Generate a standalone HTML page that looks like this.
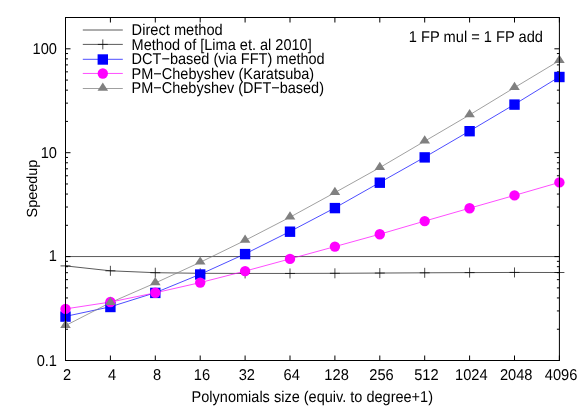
<!DOCTYPE html>
<html><head><meta charset="utf-8"><title>Speedup chart</title>
<style>html,body{margin:0;padding:0;background:#fff}body{width:581px;height:407px;overflow:hidden}</style></head>
<body>
<svg width="581" height="407" viewBox="0 0 581 407" style="display:block;font-family:'Liberation Sans',sans-serif;font-size:14.67px;will-change:transform;text-rendering:geometricPrecision" fill="#000">
<rect width="581" height="407" fill="#fff"/>
<path d="M65.50 360.5 v-5 M65.50 17.5 v5 M110.40 360.5 v-5 M110.40 17.5 v5 M155.30 360.5 v-5 M155.30 17.5 v5 M200.20 360.5 v-5 M200.20 17.5 v5 M245.10 360.5 v-5 M245.10 17.5 v5 M290.00 360.5 v-5 M290.00 17.5 v5 M334.90 360.5 v-5 M334.90 17.5 v5 M379.80 360.5 v-5 M379.80 17.5 v5 M424.70 360.5 v-5 M424.70 17.5 v5 M469.60 360.5 v-5 M469.60 17.5 v5 M514.50 360.5 v-5 M514.50 17.5 v5 M559.40 360.5 v-5 M559.40 17.5 v5 M65.5 360.50 h5 M559.4 360.50 h-5 M65.5 329.22 h2.5 M559.4 329.22 h-2.5 M65.5 310.93 h2.5 M559.4 310.93 h-2.5 M65.5 297.95 h2.5 M559.4 297.95 h-2.5 M65.5 287.88 h2.5 M559.4 287.88 h-2.5 M65.5 279.65 h2.5 M559.4 279.65 h-2.5 M65.5 272.69 h2.5 M559.4 272.69 h-2.5 M65.5 266.67 h2.5 M559.4 266.67 h-2.5 M65.5 261.35 h2.5 M559.4 261.35 h-2.5 M65.5 256.60 h5 M559.4 256.60 h-5 M65.5 225.32 h2.5 M559.4 225.32 h-2.5 M65.5 207.03 h2.5 M559.4 207.03 h-2.5 M65.5 194.05 h2.5 M559.4 194.05 h-2.5 M65.5 183.98 h2.5 M559.4 183.98 h-2.5 M65.5 175.75 h2.5 M559.4 175.75 h-2.5 M65.5 168.79 h2.5 M559.4 168.79 h-2.5 M65.5 162.77 h2.5 M559.4 162.77 h-2.5 M65.5 157.45 h2.5 M559.4 157.45 h-2.5 M65.5 152.70 h5 M559.4 152.70 h-5 M65.5 121.42 h2.5 M559.4 121.42 h-2.5 M65.5 103.13 h2.5 M559.4 103.13 h-2.5 M65.5 90.15 h2.5 M559.4 90.15 h-2.5 M65.5 80.08 h2.5 M559.4 80.08 h-2.5 M65.5 71.85 h2.5 M559.4 71.85 h-2.5 M65.5 64.89 h2.5 M559.4 64.89 h-2.5 M65.5 58.87 h2.5 M559.4 58.87 h-2.5 M65.5 53.55 h2.5 M559.4 53.55 h-2.5 M65.5 48.80 h5 M559.4 48.80 h-5 M65.5 17.52 h2.5 M559.4 17.52 h-2.5" stroke="#000" stroke-width="1" fill="none"/>
<polyline fill="none" stroke="#000" stroke-width="0.65" points="65.50,256.55 559.40,256.55"/>
<polyline fill="none" stroke="#000" stroke-width="0.65" points="65.50,265.90 110.40,270.80 155.30,272.70 200.20,273.30 245.10,273.45 290.00,273.45 334.90,273.30 379.80,273.05 424.70,272.80 469.60,272.60 514.50,272.45 559.40,272.50"/>
<polyline fill="none" stroke="#0000ff" stroke-width="0.7" points="65.50,316.40 110.40,306.80 155.30,292.70 200.20,274.30 245.10,253.90 290.00,231.50 334.90,207.90 379.80,182.50 424.70,157.20 469.60,131.00 514.50,104.40 559.40,76.80"/>
<polyline fill="none" stroke="#ff00ff" stroke-width="0.7" points="65.50,308.90 110.40,302.05 155.30,292.80 200.20,282.60 245.10,271.10 290.00,258.90 334.90,246.60 379.80,234.20 424.70,221.10 469.60,208.20 514.50,195.40 559.40,182.40"/>
<polyline fill="none" stroke="#808080" stroke-width="0.75" points="65.50,325.60 110.40,302.60 155.30,283.00 200.20,262.30 245.10,240.40 290.00,217.20 334.90,192.60 379.80,167.60 424.70,141.20 469.60,114.90 514.50,87.60 559.40,60.60"/>
<path d="M60.50 265.90 h10 M65.50 260.90 v10" stroke="#000" stroke-width="0.7" fill="none"/>
<path d="M105.40 270.80 h10 M110.40 265.80 v10" stroke="#000" stroke-width="0.7" fill="none"/>
<path d="M150.30 272.70 h10 M155.30 267.70 v10" stroke="#000" stroke-width="0.7" fill="none"/>
<path d="M195.20 273.30 h10 M200.20 268.30 v10" stroke="#000" stroke-width="0.7" fill="none"/>
<path d="M240.10 273.45 h10 M245.10 268.45 v10" stroke="#000" stroke-width="0.7" fill="none"/>
<path d="M285.00 273.45 h10 M290.00 268.45 v10" stroke="#000" stroke-width="0.7" fill="none"/>
<path d="M329.90 273.30 h10 M334.90 268.30 v10" stroke="#000" stroke-width="0.7" fill="none"/>
<path d="M374.80 273.05 h10 M379.80 268.05 v10" stroke="#000" stroke-width="0.7" fill="none"/>
<path d="M419.70 272.80 h10 M424.70 267.80 v10" stroke="#000" stroke-width="0.7" fill="none"/>
<path d="M464.60 272.60 h10 M469.60 267.60 v10" stroke="#000" stroke-width="0.7" fill="none"/>
<path d="M509.50 272.45 h10 M514.50 267.45 v10" stroke="#000" stroke-width="0.7" fill="none"/>
<path d="M554.40 272.50 h10 M559.40 267.50 v10" stroke="#000" stroke-width="0.7" fill="none"/>
<rect x="60.30" y="311.40" width="10.4" height="10.4" fill="#0000ff"/>
<rect x="105.20" y="301.80" width="10.4" height="10.4" fill="#0000ff"/>
<rect x="150.10" y="287.70" width="10.4" height="10.4" fill="#0000ff"/>
<rect x="195.00" y="269.30" width="10.4" height="10.4" fill="#0000ff"/>
<rect x="239.90" y="248.90" width="10.4" height="10.4" fill="#0000ff"/>
<rect x="284.80" y="226.50" width="10.4" height="10.4" fill="#0000ff"/>
<rect x="329.70" y="202.90" width="10.4" height="10.4" fill="#0000ff"/>
<rect x="374.60" y="177.50" width="10.4" height="10.4" fill="#0000ff"/>
<rect x="419.50" y="152.20" width="10.4" height="10.4" fill="#0000ff"/>
<rect x="464.40" y="126.00" width="10.4" height="10.4" fill="#0000ff"/>
<rect x="509.30" y="99.40" width="10.4" height="10.4" fill="#0000ff"/>
<rect x="554.20" y="71.80" width="10.4" height="10.4" fill="#0000ff"/>
<circle cx="65.50" cy="308.90" r="5.2" fill="#ff00ff"/>
<circle cx="110.40" cy="302.05" r="5.2" fill="#ff00ff"/>
<circle cx="155.30" cy="292.80" r="5.2" fill="#ff00ff"/>
<circle cx="200.20" cy="282.60" r="5.2" fill="#ff00ff"/>
<circle cx="245.10" cy="271.10" r="5.2" fill="#ff00ff"/>
<circle cx="290.00" cy="258.90" r="5.2" fill="#ff00ff"/>
<circle cx="334.90" cy="246.60" r="5.2" fill="#ff00ff"/>
<circle cx="379.80" cy="234.20" r="5.2" fill="#ff00ff"/>
<circle cx="424.70" cy="221.10" r="5.2" fill="#ff00ff"/>
<circle cx="469.60" cy="208.20" r="5.2" fill="#ff00ff"/>
<circle cx="514.50" cy="195.40" r="5.2" fill="#ff00ff"/>
<circle cx="559.40" cy="182.40" r="5.2" fill="#ff00ff"/>
<path d="M60.20 327.90 h10.6 L65.50 319.70 z" fill="#808080"/>
<path d="M105.10 304.90 h10.6 L110.40 296.70 z" fill="#808080"/>
<path d="M150.00 285.30 h10.6 L155.30 277.10 z" fill="#808080"/>
<path d="M194.90 264.60 h10.6 L200.20 256.40 z" fill="#808080"/>
<path d="M239.80 242.70 h10.6 L245.10 234.50 z" fill="#808080"/>
<path d="M284.70 219.50 h10.6 L290.00 211.30 z" fill="#808080"/>
<path d="M329.60 194.90 h10.6 L334.90 186.70 z" fill="#808080"/>
<path d="M374.50 169.90 h10.6 L379.80 161.70 z" fill="#808080"/>
<path d="M419.40 143.50 h10.6 L424.70 135.30 z" fill="#808080"/>
<path d="M464.30 117.20 h10.6 L469.60 109.00 z" fill="#808080"/>
<path d="M509.20 89.90 h10.6 L514.50 81.70 z" fill="#808080"/>
<path d="M554.10 62.90 h10.6 L559.40 54.70 z" fill="#808080"/>
<polyline fill="none" stroke="#000" stroke-width="0.65" points="82.80,30.00 122.80,30.00"/>
<polyline fill="none" stroke="#000" stroke-width="0.65" points="82.80,44.40 122.80,44.40"/>
<path d="M97.80 44.40 h10 M102.80 39.40 v10" stroke="#000" stroke-width="0.7" fill="none"/>
<polyline fill="none" stroke="#0000ff" stroke-width="0.7" points="82.80,59.30 122.80,59.30"/>
<rect x="97.60" y="54.30" width="10.4" height="10.4" fill="#0000ff"/>
<polyline fill="none" stroke="#ff00ff" stroke-width="0.7" points="82.80,73.45 122.80,73.45"/>
<circle cx="102.80" cy="73.45" r="5.2" fill="#ff00ff"/>
<polyline fill="none" stroke="#808080" stroke-width="0.75" points="82.80,88.50 122.80,88.50"/>
<path d="M97.50 90.80 h10.6 L102.80 82.60 z" fill="#808080"/>
<rect x="65.5" y="17.5" width="493.90" height="343.00" fill="none" stroke="#000" stroke-width="1"/>
<text transform="translate(131.6,35) scale(1,1.07)" textLength="91.1" lengthAdjust="spacingAndGlyphs">Direct method</text>
<text transform="translate(131.6,49.5) scale(1,1.07)" textLength="180.1" lengthAdjust="spacingAndGlyphs">Method of [Lima et. al 2010]</text>
<text transform="translate(131.6,64) scale(1,1.07)" textLength="193.1" lengthAdjust="spacingAndGlyphs">DCT−based (via FFT) method</text>
<text transform="translate(131.6,78.5) scale(1,1.07)" textLength="182.6" lengthAdjust="spacingAndGlyphs">PM−Chebyshev (Karatsuba)</text>
<text transform="translate(131.6,93) scale(1,1.07)" textLength="192.4" lengthAdjust="spacingAndGlyphs">PM−Chebyshev (DFT−based)</text>
<text transform="translate(408.8,41.8) scale(1,1.07)" textLength="134.2" lengthAdjust="spacingAndGlyphs">1 FP mul = 1 FP add</text>
<text transform="translate(57,54) scale(1,1.07)" text-anchor="end">100</text>
<text transform="translate(57,158) scale(1,1.07)" text-anchor="end">10</text>
<text transform="translate(57,261) scale(1,1.07)" text-anchor="end">1</text>
<text transform="translate(57,366) scale(1,1.07)" text-anchor="end">0.1</text>
<text transform="translate(67.2,379.9) scale(1,1.07)" text-anchor="middle">2</text>
<text transform="translate(112.1,379.9) scale(1,1.07)" text-anchor="middle">4</text>
<text transform="translate(157.0,379.9) scale(1,1.07)" text-anchor="middle">8</text>
<text transform="translate(201.9,379.9) scale(1,1.07)" text-anchor="middle">16</text>
<text transform="translate(246.8,379.9) scale(1,1.07)" text-anchor="middle">32</text>
<text transform="translate(291.7,379.9) scale(1,1.07)" text-anchor="middle">64</text>
<text transform="translate(336.6,379.9) scale(1,1.07)" text-anchor="middle">128</text>
<text transform="translate(381.5,379.9) scale(1,1.07)" text-anchor="middle">256</text>
<text transform="translate(426.4,379.9) scale(1,1.07)" text-anchor="middle">512</text>
<text transform="translate(471.3,379.9) scale(1,1.07)" text-anchor="middle">1024</text>
<text transform="translate(516.2,379.9) scale(1,1.07)" text-anchor="middle">2048</text>
<text transform="translate(561.1,379.9) scale(1,1.07)" text-anchor="middle">4096</text>
<text transform="translate(191.6,401.7) scale(1,1.07)" textLength="241.4" lengthAdjust="spacingAndGlyphs">Polynomials size (equiv. to degree+1)</text>
<text transform="translate(36.8,217.4) rotate(-90)" textLength="57.8" lengthAdjust="spacingAndGlyphs">Speedup</text>
</svg>
</body></html>
